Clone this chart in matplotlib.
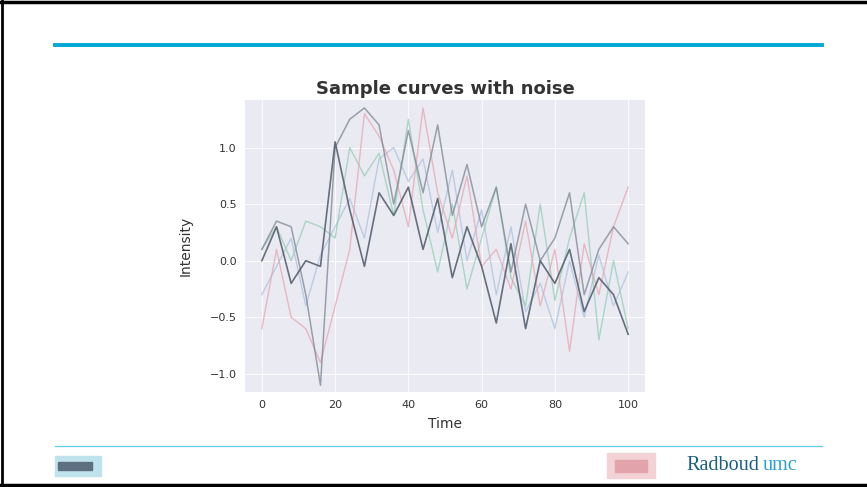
import matplotlib
matplotlib.use('Agg')
import matplotlib.pyplot as plt
from matplotlib.lines import Line2D
from matplotlib.patches import Rectangle

# time points and the noisy curves
t = [0, 4, 8, 12, 16, 20, 24, 28, 32, 36, 40, 44, 48, 52, 56, 60, 64, 68, 72, 76, 80, 84, 88, 92, 96, 100]

curve_dark = [0.0, 0.3, -0.2, 0.0, -0.05, 1.05, 0.45, -0.05, 0.6, 0.4, 0.65, 0.1, 0.55, -0.15, 0.3, -0.05,
              -0.55, 0.15, -0.6, 0.0, -0.2, 0.1, -0.45, -0.15, -0.3, -0.65]
curve_gray = [0.1, 0.35, 0.3, -0.3, -1.1, 1.0, 1.25, 1.35, 1.2, 0.5, 1.15, 0.6, 1.2, 0.4, 0.85, 0.3,
              0.65, -0.1, 0.5, 0.0, 0.2, 0.6, -0.3, 0.1, 0.3, 0.15]
curve_red = [-0.6, 0.1, -0.5, -0.6, -0.9, -0.4, 0.1, 1.3, 1.1, 0.8, 0.3, 1.35, 0.6, 0.2, 0.75, -0.05,
             0.1, -0.25, 0.35, -0.4, 0.1, -0.8, 0.15, -0.3, 0.3, 0.65]
curve_green = [0.1, 0.3, 0.0, 0.35, 0.3, 0.2, 1.0, 0.75, 0.95, 0.4, 1.25, 0.45, -0.1, 0.5, -0.25, 0.2,
               0.65, -0.15, -0.4, 0.5, -0.35, 0.2, 0.6, -0.7, 0.0, -0.6]
curve_blue = [-0.3, -0.05, 0.2, -0.4, 0.05, 0.3, 0.55, 0.2, 0.9, 1.0, 0.7, 0.9, 0.25, 0.8, 0.0, 0.45,
              -0.3, 0.3, -0.45, -0.2, -0.6, 0.0, -0.5, 0.05, -0.4, -0.1]

fig = plt.figure(figsize=(8.67, 4.87), dpi=100)
fig.patch.set_facecolor('white')

# the plot itself (seaborn darkgrid look)
ax = fig.add_axes([245 / 867, 1 - 392 / 487, 400 / 867, 292 / 487])
ax.set_facecolor('#eaeaf2')
for s in ax.spines.values():
    s.set_visible(False)
ax.grid(True, color='white', linewidth=0.6)
ax.set_axisbelow(True)

ax.plot(t, curve_blue, color='#a9bfdc', linewidth=1.0, alpha=0.7)
ax.plot(t, curve_green, color='#8fcbb0', linewidth=1.0, alpha=0.7)
ax.plot(t, curve_red, color='#e6a2ad', linewidth=1.0, alpha=0.7)
ax.plot(t, curve_gray, color='#7c8592', linewidth=1.1, alpha=0.75)
ax.plot(t, curve_dark, color='#56616f', linewidth=1.2, alpha=0.9)

ax.set_xlim(-4.6, 104.6)
ax.set_ylim(-1.16, 1.42)
ax.set_xticks([0, 20, 40, 60, 80, 100])
ax.set_yticks([-1.0, -0.5, 0.0, 0.5, 1.0])
ax.tick_params(length=0, labelsize=8, colors='#333333', pad=6)
ax.set_title('Sample curves with noise', fontsize=13, fontweight='bold', color='#333333', pad=4)
ax.set_xlabel('Time', fontsize=10, color='#333333', labelpad=5)
ax.set_ylabel('Intensity', fontsize=10, color='#333333', labelpad=12)

# slide frame
fig.add_artist(Line2D([2 / 867, 2 / 867], [0, 1], color='black', linewidth=2))
fig.add_artist(Line2D([0, 1], [1 - 1.5 / 487, 1 - 1.5 / 487], color='black', linewidth=2.5))
fig.add_artist(Line2D([0, 1], [1 - 484.5 / 487, 1 - 484.5 / 487], color='black', linewidth=2.5))

# header / footer rules
fig.add_artist(Line2D([55 / 867, 822 / 867], [1 - 45 / 487, 1 - 45 / 487], color='#00a8d6', linewidth=2.8))
fig.add_artist(Line2D([55 / 867, 822 / 867], [1 - 446 / 487, 1 - 446 / 487], color='#62cbe6', linewidth=0.9))

# logos (rough blocks)
fig.add_artist(Rectangle((55 / 867, 1 - 476 / 487), 46 / 867, 20 / 487, color='#bfe3ec', transform=fig.transFigure))
fig.add_artist(Rectangle((58 / 867, 1 - 470 / 487), 34 / 867, 8 / 487, color='#5d6f80', transform=fig.transFigure))
fig.add_artist(Rectangle((607 / 867, 1 - 478 / 487), 48 / 867, 25 / 487, color='#f3d2d6', transform=fig.transFigure))
fig.add_artist(Rectangle((615 / 867, 1 - 472 / 487), 32 / 867, 12 / 487, color='#e2a3ab', transform=fig.transFigure))

fig.text(686 / 867, 1 - 466 / 487, 'Radboud', fontsize=14.5, color='#1b5f80', family='Liberation Serif',
         va='center', ha='left')
fig.text(763 / 867, 1 - 466 / 487, 'umc', fontsize=14.5, color='#2aa0d2', family='Liberation Serif',
         va='center', ha='left')

plt.savefig('out.png', dpi=100)
